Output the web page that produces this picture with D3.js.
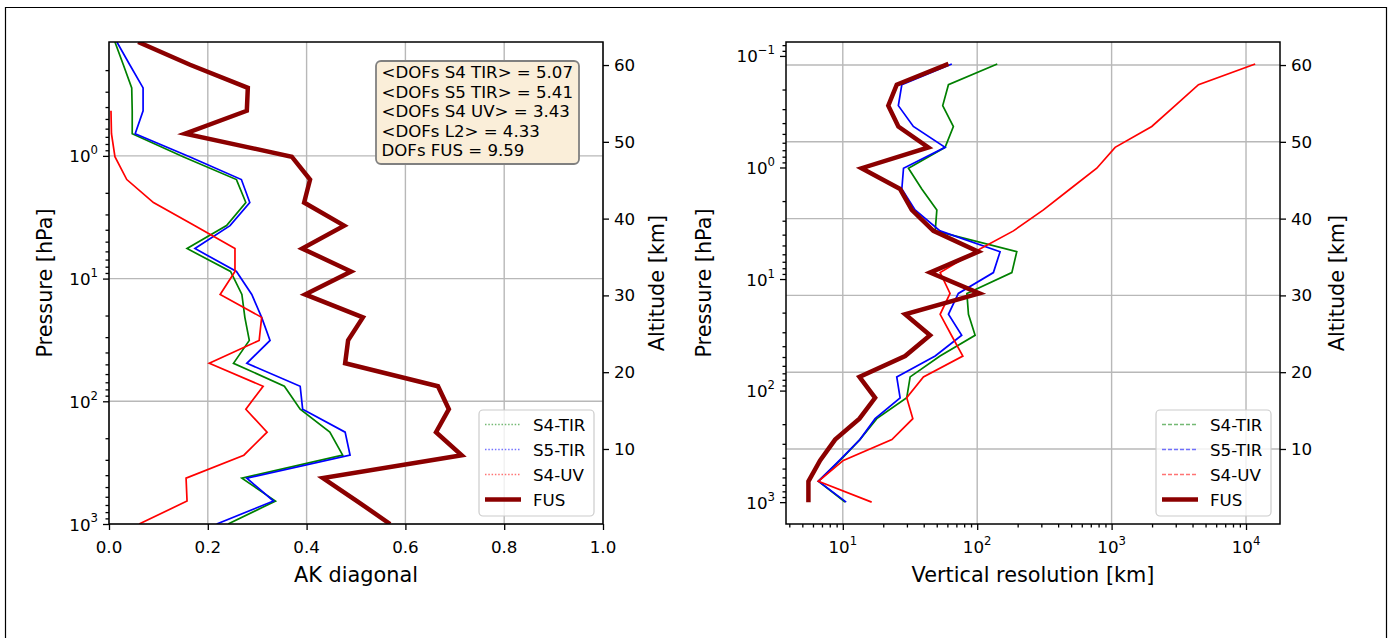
<!DOCTYPE html>
<html><head><meta charset="utf-8">
<script src="https://cdn.jsdelivr.net/npm/d3@7"></script>
<style>
body{margin:0;background:#fff;}
svg{display:block;font-family:"DejaVu Sans",sans-serif;}
</style>
</head><body>
<svg id="c" width="1389" height="638"></svg>
<script>
// ---------------- data ----------------
// retrieval pressure levels [hPa], surface to top
const pressureLevels = [1000, 650, 423, 275, 178.5, 116, 75.4, 49.0, 31.9, 20.7, 13.46, 8.75, 5.69, 3.70, 2.40, 1.56, 1.015, 0.660, 0.429, 0.279, 0.181, 0.118];

// AK diagonal (left panel)
const akS4TIR = [0.241, 0.337, 0.269, 0.473, 0.447, 0.387, 0.355, 0.252, 0.284, 0.275, 0.269, 0.246, 0.158, 0.238, 0.277, 0.258, 0.150, 0.047, 0.047, 0.046, 0.029, 0.012];
const akS5TIR = [0.218, 0.333, 0.279, 0.488, 0.478, 0.392, 0.387, 0.279, 0.326, 0.309, 0.289, 0.258, 0.174, 0.245, 0.285, 0.268, 0.163, 0.053, 0.069, 0.069, 0.042, 0.016];
const akS4UV  = [0.061, 0.158, 0.156, 0.273, 0.320, 0.277, 0.312, 0.203, 0.304, 0.309, 0.225, 0.255, 0.255, 0.173, 0.090, 0.036, 0.012, 0.005, 0.004];
const akFUS   = [0.569, 0.502, 0.433, 0.714, 0.662, 0.688, 0.666, 0.478, 0.484, 0.514, 0.397, 0.490, 0.391, 0.476, 0.395, 0.407, 0.370, 0.154, 0.279, 0.281, 0.164, 0.059];

// Vertical resolution [km] (right panel)
const vrS4TIR = [10.4, 6.58, 9.55, 13.4, 17.9, 29.9, 31.7, 52.9, 96.5, 86.1, 83.8, 181, 197, 48.7, 50.1, 38.7, 30.8, 57.7, 66.5, 55.4, 61.1, 141];
const vrS5TIR = [10.6, 6.58, 9.44, 13.4, 17.4, 26.7, 25.2, 48.7, 76.7, 61.1, 72.4, 132, 148, 52.9, 34.5, 27.5, 28.3, 57.7, 33.5, 25.9, 27.5, 64.7];
const vrS4UV  = [16.4, 6.58, 10.1, 23.2, 33.2, 29.9, 39.8, 78.2, 64.3, 53.0, 62.8, 53.0, 96, 186, 311, 491, 776, 1062, 1990, 2970, 4430, 11700];
const vrFUS   = [5.55, 5.55, 6.78, 8.77, 13.3, 17.4, 13.3, 29.1, 44.6, 29.1, 103.8, 44.6, 102, 47.2, 32.6, 26.7, 13.8, 43.3, 25.9, 21.8, 25.2, 61.1];

// ticks & labels
const akTicks = [0, 0.2, 0.4, 0.6, 0.8, 1.0];
const altTicks = [10, 20, 30, 40, 50, 60];
const altRange = [0.23, 63.0];
const pTicksLeft = [1, 10, 100, 1000];
const pTicksRight = [0.1, 1, 10, 100, 1000];
const vrTicks = [10, 100, 1000, 10000];
const seriesNames = ["S4-TIR", "S5-TIR", "S4-UV", "FUS"];
const seriesColors = ["#008000", "#0000ff", "#ff0000", "#8b0000"];
const dofLines = ["<DOFs S4 TIR> = 5.07", "<DOFs S5 TIR> = 5.41", "<DOFs S4 UV> = 3.43", "<DOFs L2> = 4.33", "DOFs FUS = 9.59"];

// ---------------- drawing ----------------
const svg = d3.select('#c');
svg.append('rect').attr('width', 1389).attr('height', 638).attr('fill', '#fff');
svg.append('path').attr('d', 'M5.5,640 V7.5 H1386.5 V640').attr('fill', 'none').attr('stroke', '#000').attr('stroke-width', 1.2);

const TICK_FS = 16.7, LABEL_FS = 20.8, LEG_FS = 16.7;
const GRID = '#b8b8b8';

function logMinor(domain) {
  const lo = Math.min(...domain), hi = Math.max(...domain);
  const out = [];
  for (let e = Math.floor(Math.log10(lo)) - 1; e <= Math.ceil(Math.log10(hi)); e++) {
    for (let m = 2; m <= 9; m++) { const v = m * Math.pow(10, e); if (v >= lo && v <= hi) out.push(v); }
  }
  return out;
}
function expOf(v) { const e = Math.round(Math.log10(v)); return e < 0 ? '\u2212' + (-e) : String(e); }
function supText(t, exp, fs) {
  t.append('tspan').text('10');
  t.append('tspan').attr('font-size', fs * 0.7).attr('dy', -fs * 0.48).text(exp);
}
function styleAxis(g) {
  g.select('.domain').remove();
  g.selectAll('line').attr('stroke', '#000').attr('stroke-width', 1.3);
}

function drawPanel(p) {
  const g = svg.append('g');
  const clipId = 'clip' + p.id;
  svg.append('clipPath').attr('id', clipId).append('rect')
    .attr('x', p.x0).attr('y', p.y0).attr('width', p.x1 - p.x0).attr('height', p.y1 - p.y0);

  // grid
  const grid = g.append('g').attr('stroke', GRID).attr('stroke-width', 1.4);
  p.gridX.forEach(v => { const x = p.xs(v); grid.append('line').attr('x1', x).attr('x2', x).attr('y1', p.y0).attr('y2', p.y1); });
  p.gridY.forEach(y => { grid.append('line').attr('x1', p.x0).attr('x2', p.x1).attr('y1', y).attr('y2', y); });

  // series
  const lines = g.append('g').attr('clip-path', `url(#${clipId})`);
  p.series.forEach((s, k) => {
    const pts = s.map((v, i) => [p.xs(v), p.ys(pressureLevels[i])]);
    lines.append('path').attr('d', d3.line()(pts)).attr('fill', 'none')
      .attr('stroke', seriesColors[k]).attr('stroke-width', k === 3 ? 4.5 : 1.7)
      .attr('stroke-linejoin', 'miter');
  });

  // axes ticks
  g.append('g').attr('transform', `translate(0,${p.y1})`)
    .call(d3.axisBottom(p.xs).tickValues(p.xTicks).tickSize(6).tickFormat('')).call(styleAxis);
  if (p.xMinor) g.append('g').attr('transform', `translate(0,${p.y1})`)
    .call(d3.axisBottom(p.xs).tickValues(p.xMinor).tickSize(3.5).tickFormat('')).call(styleAxis);
  g.append('g').attr('transform', `translate(${p.x0},0)`)
    .call(d3.axisLeft(p.ys).tickValues(p.yTicks).tickSize(6).tickFormat('')).call(styleAxis);
  g.append('g').attr('transform', `translate(${p.x0},0)`)
    .call(d3.axisLeft(p.ys).tickValues(p.yMinor).tickSize(3.5).tickFormat('')).call(styleAxis);
  g.append('g').attr('transform', `translate(${p.x1},0)`)
    .call(d3.axisRight(p.alt).tickValues(altTicks).tickSize(6).tickFormat('')).call(styleAxis);

  // frame
  g.append('rect').attr('x', p.x0).attr('y', p.y0).attr('width', p.x1 - p.x0).attr('height', p.y1 - p.y0)
    .attr('fill', 'none').attr('stroke', '#000').attr('stroke-width', 1.5);

  // tick labels
  p.xTicks.forEach(v => {
    const t = g.append('text').attr('x', p.xs(v)).attr('y', p.y1 + 29).attr('text-anchor', 'middle')
      .attr('font-size', TICK_FS).attr('fill', '#000');
    if (p.xLog) supText(t, expOf(v), TICK_FS); else t.text(d3.format('.1f')(v));
  });
  p.yTicks.forEach(v => {
    const t = g.append('text').attr('x', p.x0 - 11).attr('y', p.ys(v) + 6.5).attr('text-anchor', 'end')
      .attr('font-size', TICK_FS).attr('fill', '#000');
    supText(t, expOf(v), TICK_FS);
  });
  altTicks.forEach(v => {
    g.append('text').attr('x', p.x1 + 11).attr('y', p.alt(v) + 6).attr('font-size', TICK_FS).attr('fill', '#000').text(v);
  });

  // axis labels
  const cx = (p.x0 + p.x1) / 2, cy = (p.y0 + p.y1) / 2;
  g.append('text').attr('x', cx).attr('y', p.y1 + 58).attr('text-anchor', 'middle').attr('font-size', LABEL_FS).text(p.xLabel);
  g.append('text').attr('transform', `translate(${p.yLabelX},${cy}) rotate(-90)`).attr('text-anchor', 'middle')
    .attr('dominant-baseline', 'central').attr('font-size', LABEL_FS).text('Pressure [hPa]');
  g.append('text').attr('transform', `translate(${p.altLabelX},${cy}) rotate(-90)`).attr('text-anchor', 'middle')
    .attr('dominant-baseline', 'central').attr('font-size', LABEL_FS).text('Altitude [km]');

  // legend
  const lg = g.append('g');
  lg.append('rect').attr('x', p.leg.x).attr('y', 410).attr('width', 115).attr('height', 106).attr('rx', 4)
    .attr('fill', '#fff').attr('fill-opacity', 0.8).attr('stroke', '#cccccc').attr('stroke-width', 1.2);
  seriesNames.forEach((name, k) => {
    const y = 424.5 + k * 25;
    lg.append('line').attr('x1', p.leg.x + 6).attr('x2', p.leg.x + 42).attr('y1', y).attr('y2', y)
      .attr('stroke', seriesColors[k]).attr('stroke-width', k === 3 ? 4.5 : 1.4)
      .attr('stroke-opacity', k === 3 ? 1 : 0.55)
      .attr('stroke-dasharray', k === 3 ? null : p.legDash);
    lg.append('text').attr('x', p.leg.x + 54).attr('y', y + 6).attr('font-size', LEG_FS).attr('fill', '#000').text(name);
  });
}

// left panel
const xL = d3.scaleLinear().domain([0, 1]).range([109, 603]);
const yL = d3.scaleLog().domain([d3.max(pressureLevels), d3.min(pressureLevels)]).range([524, 42]);
const altL = d3.scaleLinear().domain(altRange).range([524, 42]);
drawPanel({
  id: 'L', x0: 109, x1: 603, y0: 42, y1: 524, xs: xL, ys: yL, alt: altL,
  series: [akS4TIR, akS5TIR, akS4UV, akFUS],
  xTicks: akTicks, xMinor: null, xLog: false,
  yTicks: pTicksLeft, yMinor: logMinor(yL.domain()),
  gridX: akTicks, gridY: pTicksLeft.map(v => yL(v)),
  xLabel: 'AK diagonal', yLabelX: 45, altLabelX: 657,
  leg: { x: 479 }, legDash: '1.5,1.8'
});

// right panel
const xR = d3.scaleLog().domain([3.78, 17900]).range([786, 1280]);
const yR = d3.scaleLog().domain([1570, 0.075]).range([524, 42]);
const altR = d3.scaleLinear().domain(altRange).range([524, 42]);
drawPanel({
  id: 'R', x0: 786, x1: 1280, y0: 42, y1: 524, xs: xR, ys: yR, alt: altR,
  series: [vrS4TIR, vrS5TIR, vrS4UV, vrFUS],
  xTicks: vrTicks, xMinor: logMinor(xR.domain()), xLog: true,
  yTicks: pTicksRight, yMinor: logMinor(yR.domain()),
  gridX: vrTicks, gridY: altTicks.map(v => altR(v)),
  xLabel: 'Vertical resolution [km]', yLabelX: 704, altLabelX: 1337,
  leg: { x: 1156 }, legDash: '4,2'
});

// DOFs box (left panel)
const box = svg.append('g');
box.append('rect').attr('x', 376).attr('y', 61).attr('width', 203).attr('height', 103).attr('rx', 5)
  .attr('fill', '#faeed9').attr('stroke', '#808080').attr('stroke-width', 1.8);
dofLines.forEach((s, i) => {
  box.append('text').attr('x', 381.5).attr('y', 78.3 + i * 19.5).attr('font-size', 16.6).attr('fill', '#000').text(s);
});
</script>
</body></html>
